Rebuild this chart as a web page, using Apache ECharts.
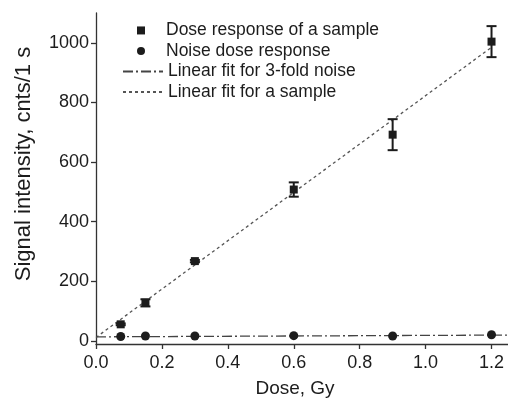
<!DOCTYPE html>
<html>
<head>
<meta charset="utf-8">
<script src="https://cdn.jsdelivr.net/npm/echarts@6/dist/echarts.min.js"></script>
<style>
  html, body { margin: 0; padding: 0; background: #fff; }
  #chart { width: 508px; height: 403px; }
</style>
</head>
<body>
<div id="chart"></div>
<script>
// doses (Gy)
var doses = [0.075, 0.15, 0.3, 0.6, 0.9, 1.2]
// sample response and its error
var sampleSignal = [56, 128, 268, 508, 692, 1004]
var sampleErr = [3, 12, 4, 24, 52, 52]
// noise response
var noiseSignal = [15, 17, 17, 18, 17, 21]
// linear fits (endpoints)
var sampleFitX = [0, 1.2]
var sampleFitY = [12, 985]
var noiseFitX = [0, 1.25]
var noiseFitY = [14, 20]

var xTicks = ['0.0', '0.2', '0.4', '0.6', '0.8', '1.0', '1.2']
var yTicks = [0, 200, 400, 600, 800, 1000]

var font = 'Liberation Sans, Arial, sans-serif'
var ink = '#1c1c1c'

var chart = echarts.init(document.getElementById('chart'))

function pairs(xs, ys) {
  return xs.map(function (x, i) { return [x, ys[i]] })
}

var option = {
  animation: false,
  backgroundColor: '#fff',
  grid: { left: 96, right: 0, top: 13, bottom: 55, containLabel: false },
  graphic: [
    {
      type: 'text',
      x: 24,
      y: 164,
      rotation: Math.PI / 2,
      style: {
        text: 'Signal intensity, cnts/1 s',
        fontFamily: font,
        fontSize: 22,
        fill: ink,
        align: 'center',
        verticalAlign: 'middle',
      },
    },
  ],
  legend: [
    {
      data: ['Dose response of a sample', 'Noise dose response'],
      orient: 'vertical',
      left: 137,
      top: 20.2,
      padding: 0,
      itemGap: 0,
      itemWidth: 8,
      itemHeight: 8,
      selectedMode: false,
      textStyle: { fontFamily: font, fontSize: 17.5, color: ink, lineHeight: 20.5, padding: [0, 0, 0, 16] },
    },
    {
      data: ['Linear fit for 3-fold noise', 'Linear fit for a sample'],
      orient: 'vertical',
      left: 122,
      top: 61.2,
      padding: 0,
      itemGap: 0,
      itemWidth: 40,
      itemHeight: 10,
      selectedMode: false,
      itemStyle: { opacity: 0 },
      textStyle: { fontFamily: font, fontSize: 17.5, color: ink, lineHeight: 20.5 },
    },
  ],
  xAxis: {
    type: 'value',
    min: 0,
    max: 1.25,
    interval: 0.2,
    name: 'Dose, Gy',
    nameLocation: 'middle',
    nameGap: 35,
    nameTextStyle: { fontFamily: font, fontSize: 19, color: ink, padding: [0, 14, 0, 0] },
    axisLine: { onZero: false, lineStyle: { color: '#333', width: 1.3 } },
    axisTick: { show: true, length: 5, lineStyle: { color: '#333', width: 1.3 } },
    axisLabel: {
      fontFamily: font, fontSize: 18, color: ink, margin: 10,
      formatter: function (v) {
        var i = Math.round(v / 0.2)
        return Math.abs(v - i * 0.2) < 1e-6 ? xTicks[i] : ''
      },
      showMaxLabel: false,
    },
    splitLine: { show: false },
  },
  yAxis: {
    type: 'value',
    min: -10,
    max: 1100,
    axisLine: { onZero: false, lineStyle: { color: '#333', width: 1.3 } },
    axisTick: { show: true, length: 5, lineStyle: { color: '#333', width: 1.3 }, customValues: yTicks },
    axisLabel: {
      fontFamily: font, fontSize: 18, color: ink, margin: 7, customValues: yTicks,
      formatter: function (v) { return String(v) },
    },
    splitLine: { show: false },
  },
  series: [
    {
      name: 'Linear fit for a sample',
      type: 'line',
      data: pairs(sampleFitX, sampleFitY),
      showSymbol: false,
      symbol: 'none',
      lineStyle: { color: '#555', width: 1.3, type: [3, 3] },
      itemStyle: { color: 'rgba(0,0,0,0)' },
      z: 2,
    },
    {
      name: 'Linear fit for 3-fold noise',
      type: 'line',
      data: pairs(noiseFitX, noiseFitY),
      showSymbol: false,
      symbol: 'none',
      lineStyle: { color: '#444', width: 1.3, type: [10, 3, 2, 3] },
      itemStyle: { color: 'rgba(0,0,0,0)' },
      z: 2,
    },
    {
      name: 'errors',
      type: 'custom',
      data: doses.map(function (d, i) { return [d, sampleSignal[i] - sampleErr[i], sampleSignal[i] + sampleErr[i]] }),
      renderItem: function (params, api) {
        var lo = api.coord([api.value(0), api.value(1)])
        var hi = api.coord([api.value(0), api.value(2)])
        var cap = 5
        var st = { stroke: ink, lineWidth: 2 }
        return {
          type: 'group',
          children: [
            { type: 'line', shape: { x1: lo[0], y1: lo[1], x2: hi[0], y2: hi[1] }, style: st },
            { type: 'line', shape: { x1: lo[0] - cap, y1: lo[1], x2: lo[0] + cap, y2: lo[1] }, style: st },
            { type: 'line', shape: { x1: hi[0] - cap, y1: hi[1], x2: hi[0] + cap, y2: hi[1] }, style: st },
          ],
        }
      },
      z: 3,
    },
    {
      name: 'Dose response of a sample',
      type: 'scatter',
      data: pairs(doses, sampleSignal),
      symbol: 'rect',
      symbolSize: 8,
      itemStyle: { color: ink, opacity: 1 },
      z: 4,
    },
    {
      name: 'Noise dose response',
      type: 'scatter',
      data: pairs(doses, noiseSignal),
      symbol: 'circle',
      symbolSize: 9,
      itemStyle: { color: ink, opacity: 1 },
      z: 4,
    },
  ],
}

chart.setOption(option)
window.addEventListener('resize', function () {
  chart.resize()
})
</script>
</body>
</html>
